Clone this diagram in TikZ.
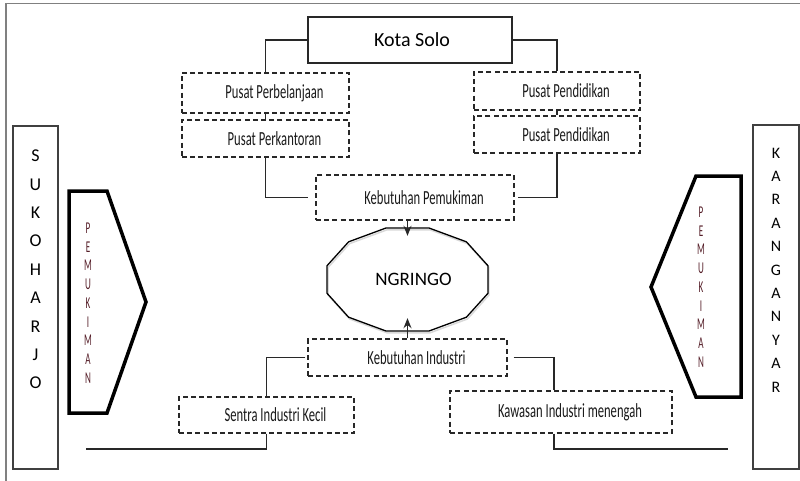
\documentclass[tikz,border=0pt]{standalone}
\usepackage{fontspec}
\setmainfont{Carlito}
\usetikzlibrary{arrows.meta}
\definecolor{pemcolor}{RGB}{85,30,40}
\definecolor{inkgray}{RGB}{40,40,40}
% narrow lettering for the labels, set a little right of centre
\newcommand\boxlabel[1]{\hspace*{18pt}\scalebox{0.63}[1]{#1}}
\begin{document}
\begin{tikzpicture}[x=1pt,y=-1pt,
  solidbox/.style={draw=inkgray, line width=1.8pt, inner sep=0pt},
  dashbox/.style={draw=inkgray, line width=1.3pt, dash pattern=on 5pt off 3.2pt,
    inner sep=0pt, font=\fontsize{20}{22}\selectfont, text=black!90},
  link/.style={draw=inkgray, line width=1.4pt},
  flow/.style={link, -{Stealth[length=10pt,width=8pt]}},
  region/.style={draw=black!75, line width=1.6pt},
  bigletter/.style={font=\fontsize{18}{18}\selectfont, inner sep=0pt},
  smallletter/.style={font=\fontsize{16.5}{16.5}\selectfont, text=pemcolor, inner sep=0pt},
  arrowshape/.style={draw=black, line width=3.5pt, line join=miter},
  outline/.style={draw=black, line width=1.3pt, line join=miter}
]
\useasboundingbox (0,0) rectangle (800,480);
\clip (0,0) rectangle (800,480);

% page frame
\draw[gray, line width=1.5pt] (6,490) -- (6,3.5) -- (810,3.5);

% city and its centres
\node[solidbox, minimum width=204, minimum height=46, font=\fontsize{20}{24}\selectfont] (ks) at (410,40) {\hspace*{4pt}Kota Solo};
\node[dashbox, minimum width=167, minimum height=40] (pb) at (265.5,93) {\boxlabel{Pusat Perbelanjaan}};
\node[dashbox, minimum width=167, minimum height=37] (pk) at (265.5,138.5) {\boxlabel{Pusat Perkantoran}};
\node[dashbox, minimum width=166, minimum height=38] (pd1) at (557,91) {\boxlabel{Pusat Pendidikan}};
\node[dashbox, minimum width=166, minimum height=37] (pd2) at (557,134.5) {\boxlabel{Pusat Pendidikan}};
\node[dashbox, minimum width=198, minimum height=45] (kp) at (415,197.5) {\boxlabel{Kebutuhan Pemukiman}};

% industry side
\node[dashbox, minimum width=199, minimum height=37] (ki) at (407.5,357.5) {\boxlabel{Kebutuhan Industri}};
\node[dashbox, minimum width=175, minimum height=36] (si) at (266.5,415) {\boxlabel{Sentra Industri Kecil}};
\node[dashbox, minimum width=222, minimum height=42] (kw) at (561,412) {\boxlabel{Kawasan Industri menengah}};

% central area
\node[inner sep=0pt, minimum width=161, minimum height=103, font=\fontsize{19}{22}\selectfont] (ng) at (407.5,279.5) {\hspace*{12pt}NGRINGO};
\begin{scope}[shift={(ng.center)}]
  \draw[black!15, line width=1.5pt, shift={(1,1.8)}] (15:83.3 and 53.3)
    \foreach \a in {45,75,...,345} { -- (\a:83.3 and 53.3) } -- cycle;
  \draw[outline] (15:83.3 and 53.3)
    \foreach \a in {45,75,...,345} { -- (\a:83.3 and 53.3) } -- cycle;
\end{scope}

% connectors
\draw[link] (ks.west) -| (pb.north);
\draw[link] (ks.east) -| (pd1.north);
\draw[link] (pb.south) -- (pk.north);
\draw[link] (pd1.south) -- (pd2.north);
\draw[link, shorten >=7pt] (pk.south) |- (kp.west);
\draw[link, shorten >=3pt] (pd2.south) |- (kp.east);
\draw[flow] (kp.south -| ng.north) -- ([yshift=-8pt]ng.north);
\draw[flow] (ki.north) -- ([yshift=13pt]ng.south);
\draw[link, shorten <=2pt] (ki.west) -| (si.north);
\draw[link, shorten <=6pt] (ki.east) -| ([xshift=-7pt]kw.north);

\coordinate (bl) at (86,449);
\coordinate (br) at (728,449);
\draw[link] (si.south) |- (bl);
\draw[link] ([xshift=-7pt]kw.south) |- (br);

% neighbouring regions
\node[region, minimum width=45, minimum height=343, inner sep=0pt] (sk) at (35.5,297.5) {};
\foreach \l [count=\i from 0] in {S,U,K,O,H,A,R,J,O}
  \node[bigletter] (sk\i) at (35.5,156+28.4*\i) {\l};

\node[region, minimum width=46, minimum height=344, inner sep=0pt] (ka) at (776,297) {};
\foreach \l [count=\i from 0] in {K,A,R,A,N,G,A,N,Y,A,R}
  \node[bigletter, font=\fontsize{16}{16}\selectfont] (ka\i) at (776,153+23.4*\i) {\l};

% settlement flows
\draw[arrowshape] (69,191) -- (107,191) -- (146,302) -- (107,413) -- (69,413) -- cycle;
\foreach \l [count=\i from 0] in {P,E,M,U,K,I,M,A,N}
  \node[smallletter] (pl\i) at (88,228+18.75*\i) {\scalebox{0.55}[1]{\l}};

\draw[arrowshape] (741,176) -- (696,176) -- (651,287) -- (696,397) -- (741,397) -- cycle;
\foreach \l [count=\i from 0] in {P,E,M,U,K,I,M,A,N}
  \node[smallletter] (pr\i) at (701,212+18.75*\i) {\scalebox{0.55}[1]{\l}};
\end{tikzpicture}
\end{document}
